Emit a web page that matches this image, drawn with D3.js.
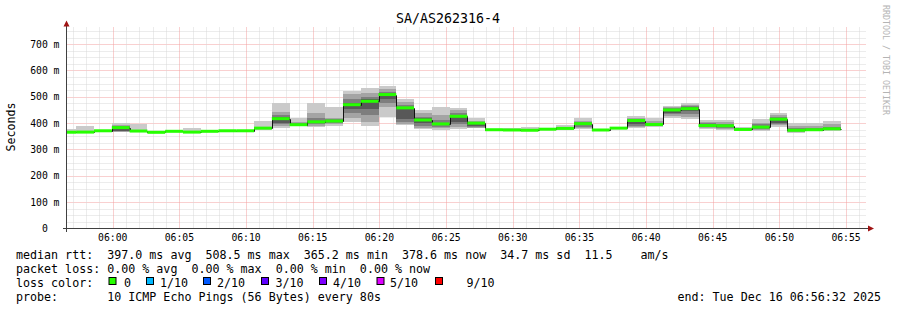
<!DOCTYPE html>
<html>
<head>
<meta charset="utf-8">
<script src="https://cdn.jsdelivr.net/npm/d3@7"></script>
<style>
  html, body { margin: 0; padding: 0; background: #fff; }
  svg text { font-family: "DejaVu Sans Mono", monospace; white-space: pre; }
</style>
</head>
<body>
<svg id="chart" width="897" height="310"></svg>
<script>
// title and labels
var title = "SA/AS262316-4";
var yTitle = "Seconds";
var watermark = "RRDTOOL / TOBI OETIKER";

// time window of the graph and the probe steps (80s each)
var startTime = new Date(2025, 11, 16, 5, 56, 32);
var endTime = new Date(2025, 11, 16, 6, 56, 32);
var firstStep = new Date(2025, 11, 16, 5, 55, 56);
var stepSec = 80;

// y ticks (ms) and their labels
var yTicks = [0, 100, 200, 300, 400, 500, 600, 700];
var yTickLabels = ["0  ", "100 m", "200 m", "300 m", "400 m", "500 m", "600 m", "700 m"];

// median rtt per step (ms)
var median = [365.5, 366, 371, 383, 370, 365.2, 369, 366, 369, 371,
              371, 381, 417, 394, 405, 408, 470, 483, 508.5, 458,
              412, 397, 426, 400, 375, 374, 373, 377, 380, 398,
              374, 381, 410, 395, 450, 455, 391, 390, 376, 385,
              415, 373, 375, 378.6];

// sorted pings per step (ms): 1st,2nd,3rd,4th and 7th,8th,9th,10th
var ping1 = [363, 364, 369, 366, 368, 363, 367, 364, 367, 369,
             369, 374, 382, 388, 386, 390, 405, 388, 422, 393,
             376, 374, 377, 380, 373, 372, 371, 375, 375, 378,
             372, 379, 380, 385, 418, 414, 378, 375, 373, 370,
             386, 364, 370, 372];
var ping2 = [364, 364, 369, 368, 368, 363, 367, 364, 367, 369,
             369, 376, 390, 390, 390, 396, 418, 405, 460, 398,
             382, 380, 385, 383, 373, 372, 371, 375, 376, 382,
             372, 379, 385, 388, 428, 425, 381, 379, 374, 374,
             392, 367, 372, 374];
var ping3 = [364, 365, 370, 370, 369, 364, 368, 365, 368, 370,
             370, 377, 395, 391, 395, 400, 440, 430, 475, 405,
             390, 386, 395, 386, 374, 373, 372, 376, 377, 386,
             373, 380, 390, 390, 433, 435, 384, 382, 374, 378,
             397, 369, 373, 375];
var ping4 = [365, 365, 370, 372, 369, 364, 368, 365, 368, 370,
             370, 379, 400, 392, 400, 404, 455, 455, 490, 415,
             400, 392, 405, 390, 374, 373, 372, 376, 378, 392,
             373, 380, 396, 392, 440, 445, 387, 385, 375, 381,
             402, 371, 374, 376];
var ping7 = [366, 367, 372, 386, 371, 366, 370, 367, 370, 372,
             372, 383, 422, 397, 410, 411, 478, 490, 512, 463,
             418, 402, 432, 403, 376, 375, 374, 378, 382, 402,
             375, 382, 413, 398, 453, 460, 396, 394, 378, 390,
             420, 376, 378, 381];
var ping8 = [367, 368, 372, 388, 372, 366, 370, 368, 370, 372,
             372, 385, 430, 400, 418, 414, 490, 500, 520, 470,
             425, 412, 440, 406, 376, 376, 376, 379, 384, 405,
             375, 383, 416, 402, 456, 465, 400, 398, 380, 395,
             425, 380, 382, 385];
var ping9 = [368, 370, 373, 392, 374, 367, 371, 370, 371, 373,
             373, 387, 443, 404, 437, 420, 510, 515, 530, 480,
             437, 430, 450, 410, 377, 377, 379, 380, 387, 410,
             376, 384, 420, 408, 460, 470, 405, 404, 382, 402,
             430, 388, 390, 395];
var ping10 = [378, 390, 374, 400, 395, 368, 372, 380, 372, 374,
              374, 408, 475, 418, 478, 462, 522, 532, 541, 493,
              450, 461, 459, 420, 378, 380, 384, 381, 392, 418,
              377, 386, 427, 420, 465, 475, 412, 412, 385, 414,
              437, 399, 401, 408];

// legend texts
var legendRows = [
  "median rtt:  397.0 ms avg  508.5 ms max  365.2 ms min  378.6 ms now  34.7 ms sd  11.5    am/s",
  "packet loss: 0.00 % avg  0.00 % max  0.00 % min  0.00 % now",
  "loss color:",
  "probe:       10 ICMP Echo Pings (56 Bytes) every 80s"
];
var endText = "end: Tue Dec 16 06:56:32 2025";
var lossLabels = ["0", "1/10", "2/10", "3/10", "4/10", "5/10", "9/10"];
var lossColors = ["#26ff00", "#00b8ff", "#0059ff", "#5e00ff", "#7e00ff", "#dd00ff", "#ff0000"];

// smoke layers, outer to inner
var bands = [
  [ping1, ping10, "#cacaca"],
  [ping2, ping9, "#a4a4a4"],
  [ping3, ping8, "#7e7e7e"],
  [ping4, ping7, "#585858"]
];

var svg = d3.select("#chart");
var pLeft = 66.5, pRight = 866.5, pTop = 27.5, pBottom = 228.5;

var x = d3.scaleTime().domain([startTime, endTime]).range([pLeft, pRight]);
var y = d3.scaleLinear().domain([0, 765]).range([pBottom, 27]);

function stepTime(k) {
  return new Date(firstStep.getTime() + k * stepSec * 1000);
}
function py(v) { return Math.round(y(v)) + 0.5; }

// grid
var grid = svg.append("g").attr("stroke-dasharray", "1,1").attr("stroke-width", 1);
d3.range(25, 751, 25).forEach(function (v) {
  grid.append("line")
    .attr("x1", pLeft).attr("x2", pRight)
    .attr("y1", py(v)).attr("y2", py(v))
    .attr("stroke", v % 100 === 0 ? "#f2a0a0" : "#d8d8d8");
});
d3.timeMinute.range(d3.timeMinute.ceil(startTime), endTime).forEach(function (t) {
  var px = Math.round(x(t)) + 0.5;
  grid.append("line")
    .attr("x1", px).attr("x2", px)
    .attr("y1", pTop).attr("y2", pBottom)
    .attr("stroke", t.getMinutes() % 5 === 0 ? "#f2a0a0" : "#d8d8d8");
});

// clip for the data
svg.append("clipPath").attr("id", "plot")
  .append("rect").attr("x", pLeft).attr("y", pTop)
  .attr("width", pRight - pLeft).attr("height", pBottom - pTop);

var plot = svg.append("g").attr("clip-path", "url(#plot)");

// smoke
bands.forEach(function (b) {
  plot.append("g").selectAll("rect")
    .data(median)
    .enter()
    .append("rect")
    .attr("x", function (d, i) { return x(stepTime(i)); })
    .attr("width", function (d, i) { return x(stepTime(i + 1)) - x(stepTime(i)); })
    .attr("y", function (d, i) { return y(b[1][i]); })
    .attr("height", function (d, i) { return y(b[0][i]) - y(b[1][i]); })
    .attr("fill", b[2])
    .attr("shape-rendering", "crispEdges");
});

// median step line
var pts = median.map(function (v, i) { return [stepTime(i), v]; });
pts.push([stepTime(median.length), median[median.length - 1]]);
plot.append("path")
  .attr("d", d3.line()
    .x(function (d) { return Math.round(x(d[0])) + 0.5; })
    .y(function (d) { return py(d[1]); })
    .curve(d3.curveStepAfter)(pts))
  .attr("fill", "none")
  .attr("stroke", "#111")
  .attr("stroke-width", 1);

// median bands in loss color
plot.append("g").selectAll("rect")
  .data(median)
  .enter()
  .append("rect")
  .attr("x", function (d, i) { return x(stepTime(i)); })
  .attr("width", function (d, i) { return x(stepTime(i + 1)) - x(stepTime(i)); })
  .attr("y", function (d) { return y(d) - 1.5; })
  .attr("height", 3)
  .attr("fill", lossColors[0]);

// axes lines
svg.append("path").attr("d", "M63," + pBottom + "H869").attr("stroke", "#404040").attr("fill", "none");
svg.append("path").attr("d", "M" + pLeft + ",232V23").attr("stroke", "#404040").attr("fill", "none");

// arrows
svg.append("path").attr("d", "M63.5,26.5L66.5,20.5L69.5,26.5Z").attr("fill", "#a01414");
svg.append("path").attr("d", "M868,225.5L874,228.5L868,231.5Z").attr("fill", "#a01414");

// x labels
svg.append("g").selectAll("text")
  .data(d3.timeMinute.every(5).range(startTime, endTime))
  .enter()
  .append("text")
  .attr("x", function (d) { return x(d); })
  .attr("y", 241)
  .attr("text-anchor", "middle")
  .attr("font-size", "9.75px")
  .attr("fill", "#000")
  .text(d3.timeFormat("%H:%M"));

// y labels
svg.append("g").selectAll("text")
  .data(yTicks)
  .enter()
  .append("text")
  .attr("x", 59.5)
  .attr("y", function (d) { return y(d); })
  .attr("dy", "0.36em")
  .attr("text-anchor", "end")
  .attr("font-size", "9.75px")
  .attr("fill", "#000")
  .text(function (d, i) { return yTickLabels[i]; });

// y title
svg.append("text")
  .attr("transform", "translate(15,127) rotate(-90)")
  .attr("text-anchor", "middle")
  .attr("font-size", "11.6px")
  .text(yTitle);

// title
svg.append("text")
  .attr("x", 448).attr("y", 23)
  .attr("text-anchor", "middle")
  .attr("font-size", "13.3px")
  .text(title);

// watermark
svg.append("text")
  .attr("transform", "translate(883,5) rotate(90)")
  .attr("font-size", "8.3px")
  .attr("fill", "#b4b4b4")
  .text(watermark);

// legend rows
var rowY = [258.5, 272.5, 286.5, 300.5];
legendRows.forEach(function (r, i) {
  svg.append("text")
    .attr("x", 16).attr("y", rowY[i])
    .attr("font-size", "11.66px")
    .text(r);
});
svg.append("text")
  .attr("x", 881).attr("y", rowY[3])
  .attr("text-anchor", "end")
  .attr("font-size", "11.66px")
  .text(endText);

// loss color boxes
var boxX = [108.5, 146, 203, 261, 319, 376.5, 435];
var boxTextX = [124, 160, 217, 275.5, 333, 390, 466.5];
lossLabels.forEach(function (l, i) {
  svg.append("rect")
    .attr("x", boxX[i] + 0.5).attr("y", 277.5)
    .attr("width", 7).attr("height", 7)
    .attr("fill", lossColors[i])
    .attr("stroke", "#000")
    .attr("stroke-width", 1);
  svg.append("text")
    .attr("x", boxTextX[i]).attr("y", rowY[2])
    .attr("font-size", "11.66px")
    .text(l);
});
</script>
</body>
</html>
